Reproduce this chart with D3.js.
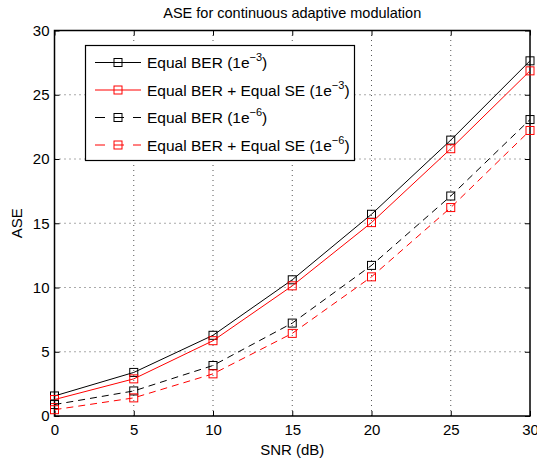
<!DOCTYPE html>
<html lang="en">
<head>
    <meta charset="UTF-8">
    <title>ASE</title>
    <script src="https://d3js.org/d3.v7.min.js"></script>
    <style>
        body { margin: 0; background: white; }
        svg { font-family: "Liberation Sans", Arial, sans-serif; }
        .grid line { stroke: #555; stroke-dasharray: 1,4; stroke-width: 1; }
        .tick text { font-size: 15px; fill: #000; }
    </style>
</head>
<body>
<script>
    const width  = 537;
    const height = 459;
    const margin = {top: 30.5, right: 7, bottom: 43, left: 54.5};

    const snr = [0, 5, 10, 15, 20, 25, 30];
    const aseBer3   = [1.56, 3.39, 6.28, 10.6, 15.7, 21.47, 27.64];
    const aseBerSe3 = [1.28, 2.89, 5.86, 10.13, 15.05, 20.8, 26.86];
    const aseBer6   = [0.89, 1.95, 3.93, 7.23, 11.72, 17.12, 23.07];
    const aseBerSe6 = [0.49, 1.41, 3.28, 6.43, 10.83, 16.22, 22.22];
    const xTicks = [0, 5, 10, 15, 20, 25, 30];
    const yTicks = [0, 5, 10, 15, 20, 25, 30];

    const series = [
        {name: "Equal BER", exp: "\u22123", values: aseBer3, color: "#000", dash: null},
        {name: "Equal BER + Equal SE", exp: "\u22123", values: aseBerSe3, color: "#ff0000", dash: null},
        {name: "Equal BER", exp: "\u22126", values: aseBer6, color: "#000", dash: "7,5"},
        {name: "Equal BER + Equal SE", exp: "\u22126", values: aseBerSe6, color: "#ff0000", dash: "7,5"}
    ];

    const svg = d3.select("body").append("svg").attr("width", width).attr("height", height);

    const x = d3.scaleLinear().domain([0, 30]).range([margin.left, width - margin.right]);
    const y = d3.scaleLinear().domain([0, 30]).range([height - margin.bottom, margin.top]);

    // grid
    const grid = svg.append("g").attr("class", "grid");
    grid.selectAll("line.v").data(xTicks.slice(1, -1)).enter().append("line")
        .attr("x1", d => x(d)).attr("x2", d => x(d))
        .attr("y1", y(0)).attr("y2", y(30));
    grid.selectAll("line.h").data(yTicks.slice(1, -1)).enter().append("line")
        .attr("y1", d => y(d)).attr("y2", d => y(d))
        .attr("x1", x(0)).attr("x2", x(30));

    // axes, ticks inward
    const tickLen = 5;
    svg.append("g").attr("transform", `translate(0,${y(0)})`)
        .call(d3.axisBottom(x).tickValues(xTicks).tickSize(-tickLen).tickPadding(8))
        .call(g => g.select(".domain").remove());
    svg.append("g").attr("transform", `translate(0,${y(30)})`)
        .call(d3.axisTop(x).tickValues(xTicks).tickSize(-tickLen).tickFormat(""))
        .call(g => g.select(".domain").remove());
    svg.append("g").attr("transform", `translate(${x(0)},0)`)
        .call(d3.axisLeft(y).tickValues(yTicks).tickSize(-tickLen).tickPadding(5))
        .call(g => g.select(".domain").remove());
    svg.append("g").attr("transform", `translate(${x(30)},0)`)
        .call(d3.axisRight(y).tickValues(yTicks).tickSize(-tickLen).tickFormat(""))
        .call(g => g.select(".domain").remove());

    svg.append("rect")
        .attr("x", x(0)).attr("y", y(30))
        .attr("width", x(30) - x(0)).attr("height", y(0) - y(30))
        .attr("fill", "none").attr("stroke", "#000").attr("stroke-width", 1.5);

    // lines
    const line = d3.line().x((d, i) => x(snr[i])).y(d => y(d));
    series.forEach(s => {
        svg.append("path")
            .attr("d", line(s.values))
            .attr("fill", "none")
            .attr("stroke", s.color)
            .attr("stroke-width", 1)
            .attr("stroke-dasharray", s.dash);
        svg.selectAll(null).data(s.values).enter().append("rect")
            .attr("x", (d, i) => x(snr[i]) - 4)
            .attr("y", d => y(d) - 4)
            .attr("width", 8).attr("height", 8)
            .attr("fill", "none").attr("stroke", s.color).attr("stroke-width", 1);
    });

    // title and labels
    svg.append("text")
        .attr("x", (x(0) + x(30)) / 2).attr("y", 18)
        .attr("text-anchor", "middle").style("font-size", "14.5px")
        .text("ASE for continuous adaptive modulation");
    svg.append("text")
        .attr("x", (x(0) + x(30)) / 2).attr("y", 455)
        .attr("text-anchor", "middle").style("font-size", "15px")
        .text("SNR (dB)");
    svg.append("text")
        .attr("transform", `translate(22,${(y(0) + y(30)) / 2}) rotate(-90)`)
        .attr("text-anchor", "middle").style("font-size", "15px")
        .text("ASE");

    // legend
    const leg = svg.append("g");
    leg.append("rect")
        .attr("x", 85.5).attr("y", 45.5).attr("width", 269).attr("height", 115)
        .attr("fill", "white").attr("stroke", "#000").attr("stroke-width", 1.2);
    series.forEach((s, i) => {
        const ry = 62.5 + i * 27.5;
        leg.append("line")
            .attr("x1", 95).attr("x2", 141).attr("y1", ry).attr("y2", ry)
            .attr("stroke", s.color).attr("stroke-width", 1)
            .attr("stroke-dasharray", s.dash ? "10,9" : null);
        leg.append("rect")
            .attr("x", 114).attr("y", ry - 4).attr("width", 8).attr("height", 8)
            .attr("fill", "none").attr("stroke", s.color);
        const t = leg.append("text").attr("x", 147).attr("y", ry + 5.5).style("font-size", "15.5px");
        t.append("tspan").text(s.name + " (1e");
        t.append("tspan").attr("dy", -7).style("font-size", "11px").text(s.exp);
        t.append("tspan").attr("dy", 7).text(")");
    });
</script>
</body>
</html>
